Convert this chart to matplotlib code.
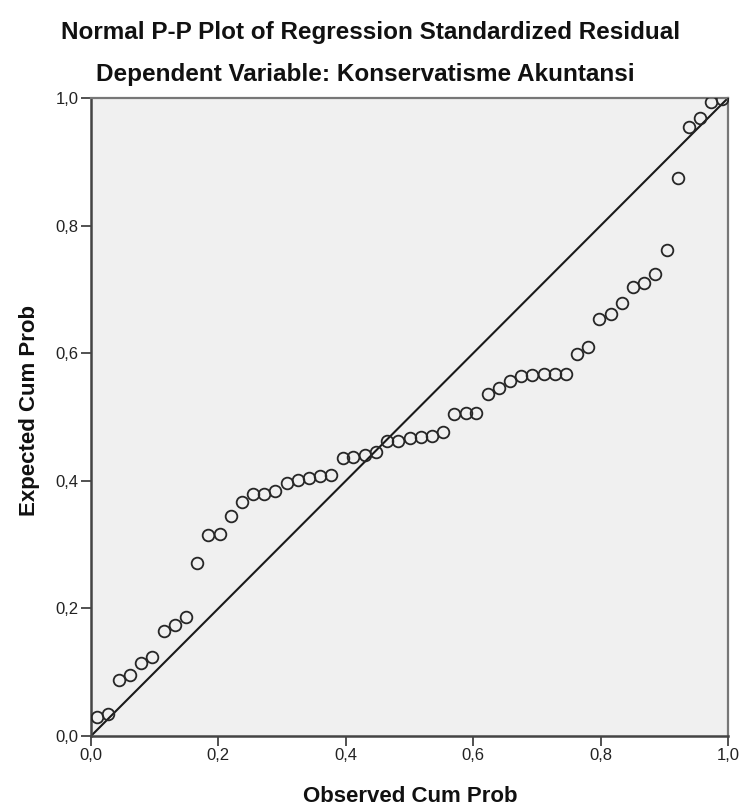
import matplotlib
matplotlib.use('Agg')
import matplotlib.pyplot as plt

plt.rcParams['font.family'] = ['Liberation Sans', 'DejaVu Sans']

# Observed cumulative probability
observed = [0.009, 0.026, 0.044, 0.061, 0.079, 0.096, 0.114, 0.132, 0.149,
            0.167, 0.184, 0.202, 0.219, 0.237, 0.254, 0.272, 0.289, 0.307,
            0.325, 0.342, 0.360, 0.377, 0.395, 0.412, 0.430, 0.447, 0.465,
            0.482, 0.500, 0.518, 0.535, 0.553, 0.570, 0.588, 0.605, 0.623,
            0.640, 0.658, 0.675, 0.693, 0.711, 0.728, 0.746, 0.763, 0.781,
            0.798, 0.816, 0.833, 0.851, 0.868, 0.886, 0.904, 0.921, 0.939,
            0.956, 0.974, 0.991]

# Expected cumulative probability
expected = [0.030, 0.035, 0.088, 0.095, 0.115, 0.124, 0.164, 0.174, 0.187,
            0.271, 0.315, 0.317, 0.345, 0.366, 0.380, 0.380, 0.384, 0.396,
            0.401, 0.405, 0.408, 0.409, 0.435, 0.438, 0.440, 0.445, 0.463,
            0.463, 0.467, 0.468, 0.471, 0.476, 0.504, 0.506, 0.507, 0.536,
            0.545, 0.557, 0.564, 0.566, 0.567, 0.567, 0.568, 0.598, 0.609,
            0.654, 0.661, 0.678, 0.703, 0.710, 0.724, 0.762, 0.875, 0.955,
            0.968, 0.994, 0.998]

ticks = [0.0, 0.2, 0.4, 0.6, 0.8, 1.0]
tick_labels = ['0,0', '0,2', '0,4', '0,6', '0,8', '1,0']

fig = plt.figure(figsize=(7.44, 8.09), dpi=100)
fig.set_facecolor('white')
ax = fig.add_axes([91/744, 73/809, 637/744, 638/809])
ax.set_facecolor('#f0f0f0')

# reference diagonal
ax.plot([0, 1], [0, 1], color='#1a1a1a', linewidth=1.5, zorder=2)
ax.plot(observed, expected, linestyle='none', marker='o', markersize=8.4,
        markerfacecolor='none', markeredgecolor='#262626', markeredgewidth=1.3, zorder=3)

ax.set_xlim(0, 1)
ax.set_ylim(0, 1)
ax.set_xticks(ticks)
ax.set_xticklabels(tick_labels)
ax.set_yticks(ticks)
ax.set_yticklabels(tick_labels)
ax.tick_params(direction='out', length=7, width=1.2, color='#333333',
               labelsize=12, labelcolor='#222222', pad=2)

for side in ['left', 'bottom']:
    ax.spines[side].set_color('#444444')
    ax.spines[side].set_linewidth(1.8)
for side in ['top', 'right']:
    ax.spines[side].set_color('#777777')
    ax.spines[side].set_linewidth(1.6)

fig.text(0.5 - 1/744, 1 - 33/809, 'Normal P-P Plot of Regression Standardized Residual',
         ha='center', va='center', fontsize=17.5, fontweight='bold', color='#111111')
fig.text(0.5 - 7/744, 1 - 75/809, 'Dependent Variable: Konservatisme Akuntansi',
         ha='center', va='center', fontsize=17.5, fontweight='bold', color='#111111')
fig.text(410/744, 1 - 797/809, 'Observed Cum Prob', ha='center', va='center',
         fontsize=16, fontweight='bold', color='#111111')
fig.text(30/744, 1 - 410/809, 'Expected Cum Prob', ha='center', va='center',
         rotation=90, fontsize=16, fontweight='bold', color='#111111')

fig.savefig('out.png', dpi=100)
